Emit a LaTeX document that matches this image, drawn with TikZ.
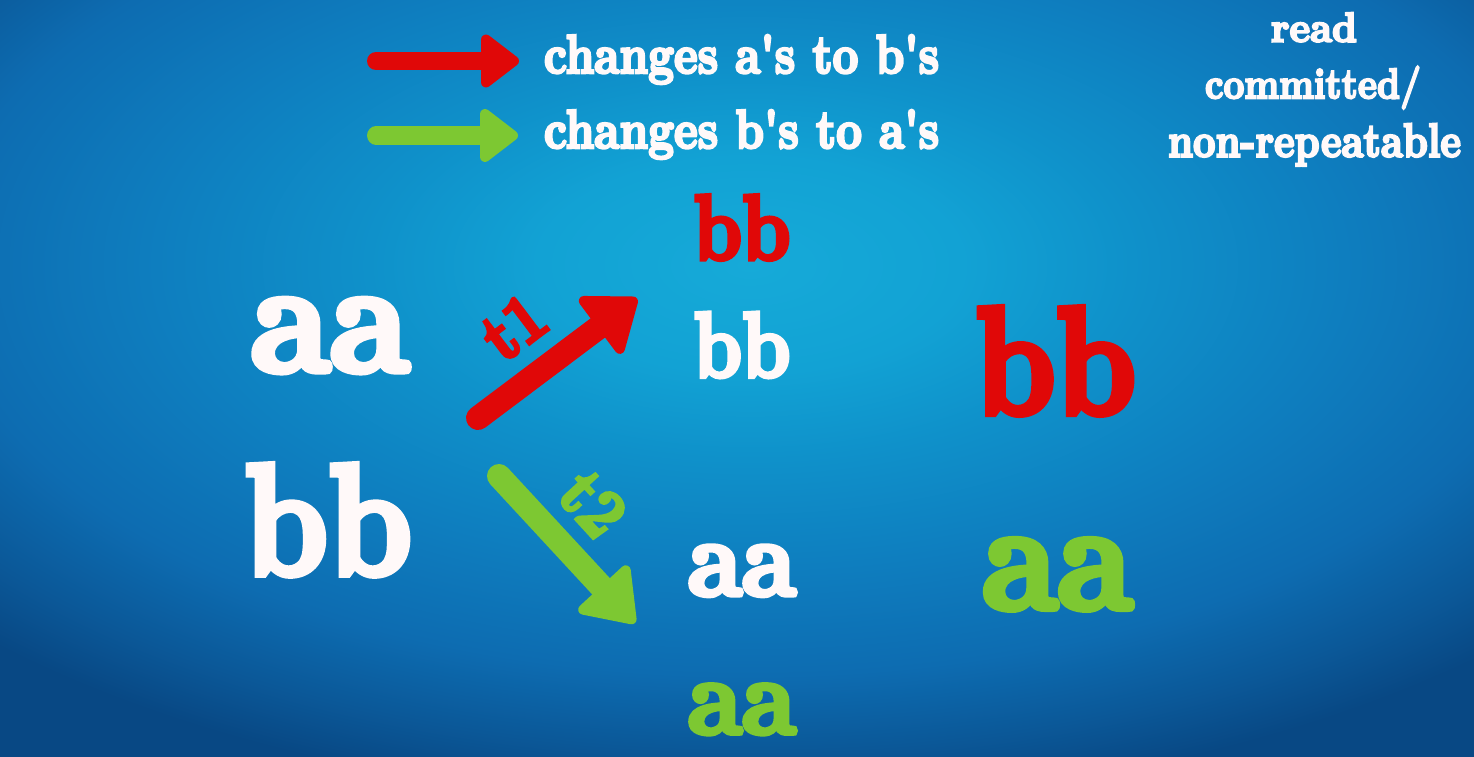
\documentclass[tikz,border=0pt]{standalone}
\usepackage{fontspec}
\usepackage{graphicx}
\usetikzlibrary{calc}
\newfontfamily\fat{lmroman10-bold.otf}[FakeBold=5]
\definecolor{bgA}{RGB}{22,170,216}
\definecolor{bgB}{RGB}{18,162,212}
\definecolor{bgC}{RGB}{15,145,202}
\definecolor{bgD}{RGB}{14,126,191}
\definecolor{bgE}{RGB}{13,108,177}
\definecolor{bgF}{RGB}{11,88,152}
\definecolor{bgG}{RGB}{8,72,132}
\definecolor{redc}{RGB}{224,8,8}
\definecolor{greenc}{RGB}{125,200,50}
\definecolor{whitec}{RGB}{255,249,249}
\pgfdeclareradialshading{bgshade}{\pgfpoint{0bp}{0bp}}{color(0bp)=(bgA); color(5bp)=(bgB); color(9bp)=(bgC); color(14bp)=(bgD); color(19bp)=(bgE); color(22.5bp)=(bgF); color(25bp)=(bgG); color(50bp)=(bgG)}
\newcommand\fitbox[3]{\resizebox{#1pt}{#2pt}{#3}}
\newcommand\fatarrow[6]{%
  \pgfmathsetmacro\fabase{#6-5}%
  \pgfmathsetmacro\fahalf{#5/2-5}%
  \draw[line width=#4pt, line cap=round, draw=#1] (#2) -- ($(#3)!#6pt!(#2)$);
  \filldraw[fill=#1, draw=#1, line width=10pt, line join=round]
    ($(#3)!5pt!(#2)$) -- ($(#3)!\fabase pt!(#2)!\fahalf pt!90:(#3)$)
    -- ($(#3)!\fabase pt!(#2)!\fahalf pt!-90:(#3)$) -- cycle;
}
\tikzset{
  word/.style={anchor=base west, inner sep=0pt, outer sep=0pt, font=\fat},
  wht/.style={word, text=whitec},
  rd/.style={word, text=redc},
  gr/.style={word, text=greenc},
  tlabel/.style={anchor=center, inner sep=0pt, outer sep=0pt, font=\fat}
}
\begin{document}
\begin{tikzpicture}[x=1pt,y=-1pt]
\useasboundingbox (0,0) rectangle (1474,757);
\fill[bgG] (0,0) rectangle (1474,757);
\begin{scope}
  \clip (0,0) rectangle (1474,757);
  \shade[shading=bgshade] (750,265) ellipse [x radius=1060, y radius=540];
\end{scope}

% legend
\coordinate (l1tail) at (376,61);
\coordinate (l1tip) at (519,61);
\coordinate (l2tail) at (376,135.5);
\coordinate (l2tip) at (518,135.5);
\fatarrow{redc}{l1tail}{l1tip}{18}{53}{38}
\fatarrow{greenc}{l2tail}{l2tip}{18}{53}{38}
\node[wht] (leg1) at (544,73) {\fitbox{395}{38}{changes a's to b's}};
\node[wht] (leg2) at (544,148) {\fitbox{395}{38}{changes b's to a's}};

% title
\node[wht] (title1) at (1271,41.7) {\fitbox{86}{29}{read}};
\node[wht] (title2) at (1205,98.3) {\fitbox{216}{32}{committed/}};
\node[wht] (title3) at (1168,156.7) {\fitbox{293}{33}{non-repeatable}};

% left column
\node[wht] (aaL) at (251,370.7) {\fitbox{158}{71}{aa}};
\node[wht] (bbL) at (244,574) {\fitbox{168}{109}{bb}};

% middle column
\node[rd]  (bbTop) at (693.5,259.3) {\fitbox{97}{64}{bb}};
\node[wht] (bbMid) at (693.5,376.7) {\fitbox{97}{64}{bb}};
\node[wht] (aaMid) at (688,595) {\fitbox{108}{49}{aa}};
\node[gr]  (aaBot) at (688,733.3) {\fitbox{108}{48.5}{aa}};

% right column
\node[rd] (bbR) at (975,413.3) {\fitbox{161}{105.5}{bb}};
\node[gr] (aaR) at (982.5,608.3) {\fitbox{150}{68.5}{aa}};

% transaction arrows
\coordinate (t1tail) at (478,418);
\coordinate (t1tip) at (637,298.5);
\coordinate (t2tail) at (499,476);
\coordinate (t2tip) at (635,623);
\fatarrow{redc}{t1tail}{t1tip}{24}{70}{49}
\fatarrow{greenc}{t2tail}{t2tip}{24}{68}{50}
\node[tlabel, text=redc, rotate=37] (t1) at (514,327) {\fitbox{62}{46}{t1}};
\node[tlabel, text=greenc, rotate=-47.5] (t2) at (593,504) {\fitbox{62}{46}{t2}};
\end{tikzpicture}
\end{document}
